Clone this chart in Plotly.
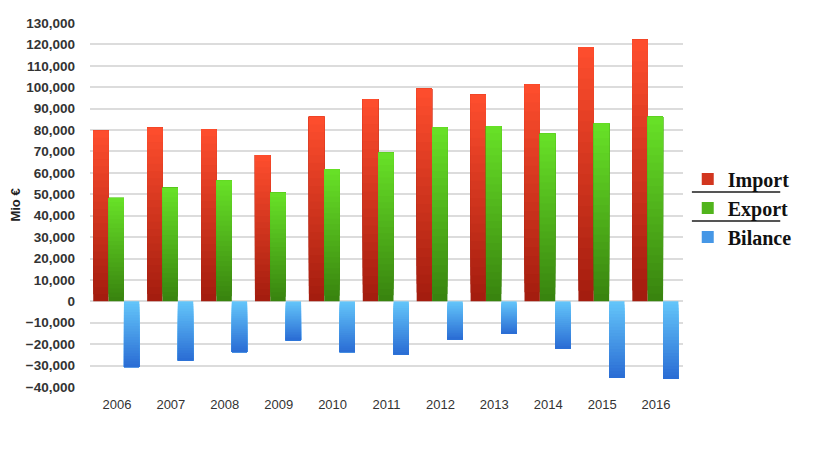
import plotly.graph_objects as go

# data (Mio €)
years = ['2006', '2007', '2008', '2009', '2010', '2011', '2012', '2013', '2014', '2015', '2016']
import_vals = [79700, 81100, 80400, 68300, 86200, 94500, 99300, 96500, 101300, 118800, 122200]
export_vals = [48300, 53000, 56400, 50700, 61700, 69400, 81200, 81900, 78300, 83100, 86200]
bilance_vals = [-30700, -27600, -23700, -18200, -23700, -24800, -17800, -15100, -22100, -35700, -36200]

# series: name, values, colour at the zero end, colour at the far end, offset
series = [
    ('Import', import_vals, (162, 28, 14), (255, 78, 46), -0.44),
    ('Export', export_vals, (56, 130, 14), (104, 226, 40), -0.155),
    ('Bilance', bilance_vals, (100, 198, 250), (42, 108, 212), 0.13),
]

n_steps = 24
bar_w = 0.285
y_min, y_max = -40000, 130000


def mix(c0, c1, t):
    return 'rgb(%d,%d,%d)' % tuple(round(a + (b - a) * t) for a, b in zip(c0, c1))


fig = go.Figure()

# gradient: each layer starts a bit further out and runs to the bar's end,
# so later layers cover earlier ones without seams
for rank, (name, vals, c0, c1, off) in enumerate(series):
    for i in range(n_steps):
        t = (i + 0.5) / n_steps
        fig.add_trace(go.Bar(
            x=years,
            y=[v - v * i / n_steps for v in vals],
            base=[v * i / n_steps for v in vals],
            width=bar_w,
            offset=off,
            marker=dict(color=mix(c0, c1, t), line=dict(width=0)),
            name=name,
            legendgroup=name,
            legendrank=rank + 1,
            showlegend=(i == n_steps // 2),
            hoverinfo='skip',
        ))

# page body has an 8px margin, so the figure is a bit smaller than the window
fig.update_layout(
    width=816, height=441,
    barmode='overlay',
    plot_bgcolor='white',
    paper_bgcolor='white',
    margin=dict(l=82, r=141, t=15, b=62),
    font=dict(family='Arial, Liberation Sans, sans-serif', color='#333333'),
    legend=dict(
        x=1.008, y=0.625, xanchor='left', yanchor='top',
        font=dict(family='Liberation Serif, Times New Roman, serif', size=20,
                  color='#111111', weight='bold'),
        tracegroupgap=0, itemwidth=30,
        bgcolor='rgba(0,0,0,0)',
    ),
    showlegend=True,
)

fig.update_yaxes(
    range=[y_min, y_max],
    dtick=10000,
    tickformat=',',
    showgrid=True, gridcolor='#dcdcdc', gridwidth=2,
    zeroline=False,
    showline=False,
    ticks='',
    automargin=False,
    ticklabelstandoff=14,
    tickfont=dict(size=13.5, color='#333333', weight='bold'),
    title=dict(text='Mio €', font=dict(size=13, color='#222222', weight='bold'), standoff=2),
)

fig.update_xaxes(
    showgrid=False,
    showline=False,
    ticks='',
    ticklabelstandoff=8,
    tickfont=dict(size=13, color='#333333'),
)

# no gridline at the bottom edge in the original
fig.add_shape(type='line', xref='paper', yref='y', x0=0, x1=1, y0=y_min, y1=y_min,
              line=dict(color='white', width=3), layer='between')

# rules under the first two legend entries
for y0 in [0.536, 0.456]:
    fig.add_shape(type='line', xref='paper', yref='paper',
                  x0=1.015, x1=1.164, y0=y0, y1=y0,
                  line=dict(color='#555555', width=2))

fig.write_html('out.html')
